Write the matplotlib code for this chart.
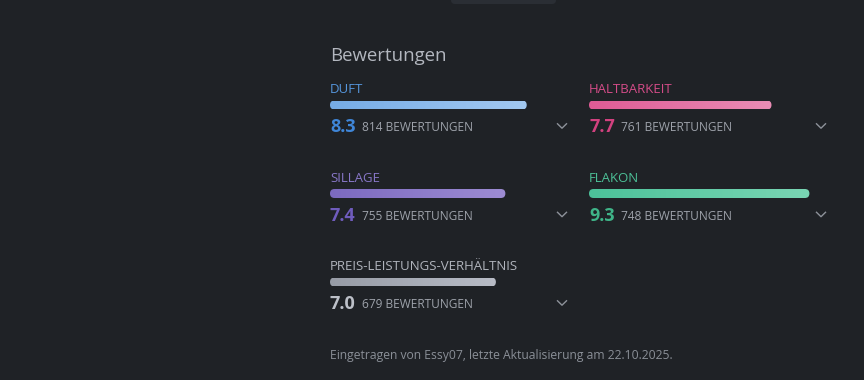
import matplotlib.pyplot as plt
import numpy as np
from matplotlib.patches import FancyBboxPatch
from matplotlib.colors import LinearSegmentedColormap
from matplotlib.lines import Line2D

plt.rcParams['font.family'] = ['Open Sans', 'DejaVu Sans']

# data
labels = ['DUFT', 'HALTBARKEIT', 'SILLAGE', 'FLAKON', 'PREIS-LEISTUNGS-VERHÄLTNIS']
scores = [8.3, 7.7, 7.4, 9.3, 7.0]
counts = [814, 761, 755, 748, 679]
title = 'Bewertungen'
footer = 'Eingetragen von Essy07, letzte Aktualisierung am 22.10.2025.'

# colours per metric: label, value, bar start, bar end
label_cols = ['#5596dc', '#d44c88', '#8877c8', '#4cbf96', '#b0b4bc']
value_cols = ['#3f86d8', '#d2417f', '#6f5cbd', '#3fb488', '#bcc0c8']
bar_start = ['#76ace6', '#df5b95', '#7c6ac0', '#4cc29a', '#979ca6']
bar_end = ['#a3c9f1', '#ea8db5', '#9d8cd3', '#7ad6b4', '#b8bcc6']

bg = '#1f2226'
W, H = 864, 380
fig = plt.figure(figsize=(W / 100, H / 100), dpi=100, facecolor=bg)


def fx(x):
    return x / W


def fy(y):
    return 1 - y / H


# small tab at the top
top = fig.add_axes([0, 0, 1, 1])
top.set_xlim(0, W)
top.set_ylim(H, 0)
top.axis('off')
top.add_patch(FancyBboxPatch((451, -10), 105, 14, boxstyle='round,pad=0,rounding_size=4',
                             fc='#2a2e34', ec='none'))

fig.text(fx(330), fy(56), title, fontsize=13.4, color='#b3b7bf', va='center', ha='left')

col_x = [330, 589, 330, 589, 330]
row_y = [0, 0, 1, 1, 2]
full_px = 237  # pixel length for a score of 10
bar_h = 9

for i, lab in enumerate(labels):
    x0 = col_x[i]
    yb = 105 + row_y[i] * 88.5  # bar centre
    fig.text(fx(x0), fy(yb - 15.5), lab, fontsize=9.5, color=label_cols[i], va='center', ha='left')

    ax = fig.add_axes([fx(x0), fy(yb + bar_h / 2), full_px / W, bar_h / H])
    ax.set_xlim(0, 10)
    ax.set_ylim(0, 1)
    ax.axis('off')
    cmap = LinearSegmentedColormap.from_list('g%d' % i, [bar_start[i], bar_end[i]])
    grad = np.linspace(0, 1, 256).reshape(1, -1)
    im = ax.imshow(grad, extent=(0, scores[i], 0, 1), aspect='auto', cmap=cmap, interpolation='bilinear')
    r = (bar_h / 2) / (full_px / 10)
    clip = FancyBboxPatch((0, 0), scores[i], 1, boxstyle='round,pad=0,rounding_size=%f' % r,
                          mutation_aspect=0.5 / r, fc='none', ec='none', transform=ax.transData)
    ax.add_patch(clip)
    im.set_clip_path(clip)

    fig.text(fx(x0), fy(yb + 22), '%.1f' % scores[i], fontsize=13, fontweight='bold',
             color=value_cols[i], va='center', ha='left')
    fig.text(fx(x0 + 32), fy(yb + 23), '%d BEWERTUNGEN' % counts[i], fontsize=8.6,
             color='#9ea3ab', va='center', ha='left')

    cx = x0 + 232
    cy = yb + 21
    fig.add_artist(Line2D([fx(cx - 4.5), fx(cx), fx(cx + 4.5)], [fy(cy - 2.2), fy(cy + 2.2), fy(cy - 2.2)],
                          color='#8d929a', lw=1.0, transform=fig.transFigure))

fig.text(fx(330), fy(355), footer, fontsize=8.7, color='#8a8f97', va='center', ha='left')

fig.savefig('out.png', dpi=100, facecolor=bg)
